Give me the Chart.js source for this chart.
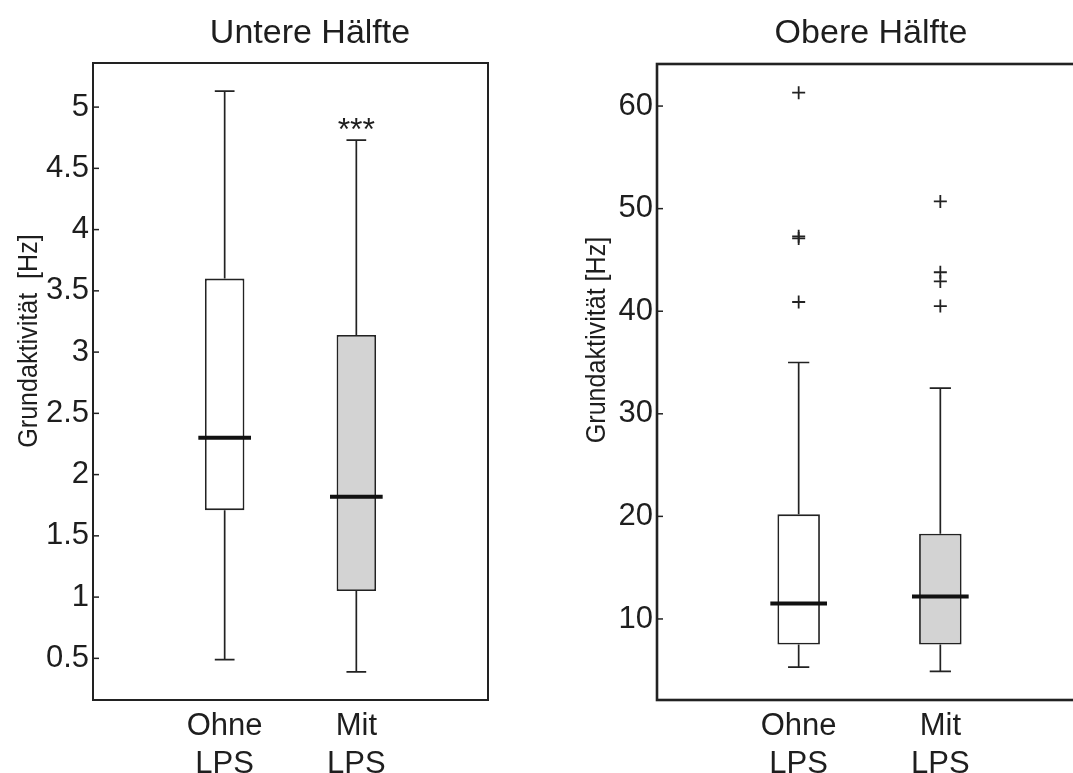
<!DOCTYPE html>
<html>
<head>
<meta charset="utf-8">
<script src="https://cdn.jsdelivr.net/npm/chart.js@4/dist/chart.umd.min.js"></script>
<style>
    html, body { margin: 0; padding: 0; background: #fff; overflow: hidden; width: 1073px; height: 773px; }
    canvas { position: absolute; top: 0; }
    #links { left: 0; }
    #rechts { left: 540px; }
</style>
</head>
<body>
<canvas id="links" width="540" height="773"></canvas>
<canvas id="rechts" width="560" height="773"></canvas>
<script>
// Gruppen (x-Achse)
const gruppen = [['Ohne', 'LPS'], ['Mit', 'LPS']];
const gruppenX = [1, 2];
const boxFarben = ['#ffffff', '#d3d3d3'];

// Untere Hälfte
const untereMin = [0.49, 0.39];
const untereQ1 = [1.71, 1.05];
const untereMedian = [2.30, 1.82];
const untereQ3 = [3.60, 3.14];
const untereMax = [5.13, 4.73];
const untereTicks = [0.5, 1, 1.5, 2, 2.5, 3, 3.5, 4, 4.5, 5];
const untereBereich = [0.16, 5.36];
const untereSignifikanz = [null, 4.88]; // *** über "Mit LPS"

// Obere Hälfte
const obereMin = [5.3, 4.9];
const obereQ1 = [7.5, 7.5];
const obereMedian = [11.5, 12.2];
const obereQ3 = [20.2, 18.3];
const obereMax = [35.0, 32.5];
const obereAusreisserOhne = [61.3, 47.3, 47.1, 40.9];
const obereAusreisserMit = [50.7, 43.8, 42.9, 40.5];
const obereTicks = [10, 20, 30, 40, 50, 60];
const obereBereich = [2.1, 64.1];

const schrift = '"Liberation Sans", Arial, Helvetica, sans-serif';
const textFarbe = '#1e1e1e';
const linienFarbe = '#222222';

// Hilfsfunktion: Liniensegmente mit Lücken dazwischen
function segmente(liste) {
    const punkte = [];
    for (const [a, b] of liste) {
        punkte.push({ x: a[0], y: a[1] }, { x: b[0], y: b[1] }, { x: NaN, y: null });
    }
    return punkte;
}

// Plugin für Rahmen, innere Ticks und Beschriftungen
const rahmenPlugin = {
    id: 'rahmen',
    afterDraw(chart, args, opts) {
        const ctx = chart.ctx;
        const { left, right, top, bottom } = chart.chartArea;
        const yScale = chart.scales.y;
        const xScale = chart.scales.x;
        ctx.save();

        // Rahmen
        ctx.strokeStyle = linienFarbe;
        ctx.lineWidth = opts.rahmenBreite;
        ctx.strokeRect(left, top, right - left, bottom - top);

        // Ticks nach innen
        ctx.lineWidth = 1.5;
        for (const t of yScale.ticks) {
            const py = yScale.getPixelForValue(t.value);
            ctx.beginPath();
            ctx.moveTo(left, py);
            ctx.lineTo(left + 6, py);
            ctx.stroke();
        }

        ctx.fillStyle = textFarbe;

        // Titel
        ctx.font = '34px ' + schrift;
        ctx.textAlign = 'center';
        ctx.textBaseline = 'alphabetic';
        ctx.fillText(opts.titel, opts.titelX, 43);

        // y-Achsentitel (etwas schmaler gesetzt wie im Original)
        ctx.save();
        ctx.translate(opts.yTitelX, opts.yTitelY);
        ctx.rotate(-Math.PI / 2);
        ctx.scale(0.93, 1);
        ctx.font = '27px ' + schrift;
        ctx.textBaseline = 'middle';
        ctx.fillText(opts.yTitel, 0, 0);
        ctx.restore();

        // Signifikanzsterne
        if (opts.sterne) {
            ctx.font = '32px ' + schrift;
            ctx.textAlign = 'center';
            opts.sterne.forEach((wert, i) => {
                if (wert === null) return;
                const px = xScale.getPixelForValue(gruppenX[i]);
                const py = yScale.getPixelForValue(wert);
                ctx.fillText('***', px, py + 18);
            });
        }
        ctx.restore();
    }
};

function erstellePanel(canvasId, werte, layout) {
    const boxDaten = gruppenX.map((x, i) => ({ x: x, y: [werte.q1[i], werte.q3[i]] }));

    const whiskerSegmente = [];
    gruppenX.forEach((x, i) => {
        whiskerSegmente.push([[x, werte.q3[i]], [x, werte.max[i]]]);
        whiskerSegmente.push([[x, werte.q1[i]], [x, werte.min[i]]]);
        whiskerSegmente.push([[x - 0.075, werte.max[i]], [x + 0.075, werte.max[i]]]);
        whiskerSegmente.push([[x - 0.075, werte.min[i]], [x + 0.075, werte.min[i]]]);
    });

    const medianSegmente = gruppenX.map((x, i) => [[x - 0.2, werte.median[i]], [x + 0.2, werte.median[i]]]);

    const datasets = [
        {
            type: 'bar',
            data: boxDaten,
            backgroundColor: boxFarben,
            borderColor: linienFarbe,
            borderWidth: 1.8,
            borderSkipped: false,
            categoryPercentage: 1,
            barPercentage: 0.3,
            order: 4
        },
        {
            type: 'scatter',
            data: segmente(whiskerSegmente),
            showLine: true,
            borderColor: linienFarbe,
            borderWidth: 1.7,
            pointRadius: 0,
            spanGaps: false,
            order: 3
        },
        {
            type: 'scatter',
            data: segmente(medianSegmente),
            showLine: true,
            borderColor: '#111111',
            borderWidth: 4,
            pointRadius: 0,
            spanGaps: false,
            order: 2
        }
    ];

    if (werte.ausreisser) {
        const punkte = [];
        werte.ausreisser.forEach((liste, i) => {
            for (const v of liste) punkte.push({ x: gruppenX[i], y: v });
        });
        datasets.push({
            type: 'scatter',
            data: punkte,
            pointStyle: 'cross',
            pointRadius: 6.5,
            pointBorderColor: linienFarbe,
            pointBorderWidth: 1.8,
            order: 1
        });
    }

    return new Chart(document.getElementById(canvasId), {
        type: 'scatter',
        data: { datasets: datasets },
        options: {
            responsive: false,
            animation: false,
            events: [],
            layout: { padding: layout.padding },
            plugins: {
                legend: { display: false },
                tooltip: { enabled: false },
                rahmen: layout.texte
            },
            scales: {
                x: {
                    type: 'linear',
                    min: 0,
                    max: 3,
                    offset: false,
                    grid: { display: false, drawTicks: false, offset: false },
                    border: { display: false },
                    afterBuildTicks: (s) => { s.ticks = gruppenX.map(v => ({ value: v })); },
                    afterFit: (s) => { s.height = 73; },
                    ticks: {
                        autoSkip: false,
                        maxRotation: 0,
                        padding: 8,
                        color: textFarbe,
                        font: { size: 31, family: schrift, lineHeight: 1.22 },
                        callback: (v) => {
                            const i = gruppenX.indexOf(v);
                            return i >= 0 ? gruppen[i] : '';
                        }
                    }
                },
                y: {
                    type: 'linear',
                    min: werte.bereich[0],
                    max: werte.bereich[1],
                    grid: { display: false, drawTicks: false },
                    border: { display: false },
                    afterBuildTicks: (s) => { s.ticks = werte.ticks.map(v => ({ value: v })); },
                    afterFit: (s) => { s.width = layout.yBreite; },
                    ticks: {
                        padding: 4,
                        color: textFarbe,
                        font: { size: 31, family: schrift },
                        callback: (v) => String(v)
                    }
                }
            }
        },
        plugins: [rahmenPlugin]
    });
}

erstellePanel('links', {
    min: untereMin, q1: untereQ1, median: untereMedian, q3: untereQ3, max: untereMax,
    ticks: untereTicks, bereich: untereBereich
}, {
    yBreite: 93,
    padding: { left: 0, right: 52, top: 63, bottom: 0 },
    texte: {
        titel: 'Untere Hälfte', titelX: 310, rahmenBreite: 2,
        yTitel: 'Grundaktivität  [Hz]', yTitelX: 30, yTitelY: 341,
        sterne: untereSignifikanz
    }
});

erstellePanel('rechts', {
    min: obereMin, q1: obereQ1, median: obereMedian, q3: obereQ3, max: obereMax,
    ausreisser: [obereAusreisserOhne, obereAusreisserMit],
    ticks: obereTicks, bereich: obereBereich
}, {
    yBreite: 117,
    padding: { left: 0, right: 18, top: 64, bottom: 0 },
    texte: {
        titel: 'Obere Hälfte', titelX: 331, rahmenBreite: 2.6,
        yTitel: 'Grundaktivität [Hz]', yTitelX: 58, yTitelY: 340,
        sterne: null
    }
});
</script>
</body>
</html>
